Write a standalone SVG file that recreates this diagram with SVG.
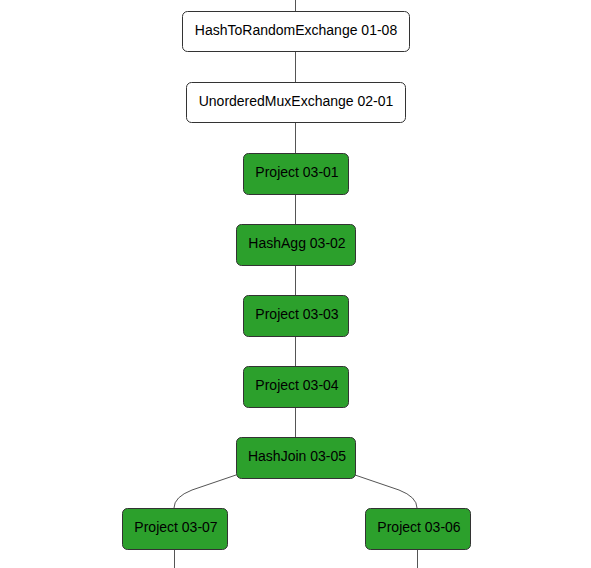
<svg xmlns="http://www.w3.org/2000/svg" width="591" height="568" viewBox="0 0 591 568">
<style>
.n rect{stroke:#333;stroke-width:1}
.w rect{fill:#fff}
.g rect{fill:#2ca02c}
text{font-family:"Liberation Sans",Arial,sans-serif;font-size:14px;text-anchor:middle;fill:#000}
.e{fill:none;stroke:#555;stroke-width:1}
</style>
<rect width="591" height="568" fill="#fff"/>
<g id="edges">
<path class="e" d="M295.5,0V11M295.5,51V82M295.5,122V153M295.5,194V224M295.5,265V295M295.5,336V366M295.5,407V437"/>
<path class="e" d="M236,475 L192,490 Q174,497 174,508"/>
<path class="e" d="M355,475 L399,490 Q417,497 417,508"/>
<path class="e" d="M174.5,549V568M417.5,549V568"/>
</g>
<g id="n1" class="n w"><rect x="182.5" y="11.5" width="227" height="40" rx="5"/><text x="296" y="35">HashToRandomExchange 01-08</text></g>
<g id="n2" class="n w"><rect x="186.5" y="82.5" width="219" height="40" rx="5"/><text x="296" y="106">UnorderedMuxExchange 02-01</text></g>
<g id="n3" class="n g"><rect x="243.5" y="153.5" width="105" height="41" rx="5"/><text x="297" y="177">Project 03-01</text></g>
<g id="n4" class="n g"><rect x="236.5" y="224.5" width="119" height="41" rx="5"/><text x="297" y="248">HashAgg 03-02</text></g>
<g id="n5" class="n g"><rect x="243.5" y="295.5" width="105" height="41" rx="5"/><text x="297" y="319">Project 03-03</text></g>
<g id="n6" class="n g"><rect x="243.5" y="366.5" width="105" height="41" rx="5"/><text x="297" y="390">Project 03-04</text></g>
<g id="n7" class="n g"><rect x="236.5" y="437.5" width="119" height="41" rx="5"/><text x="297" y="461">HashJoin 03-05</text></g>
<g id="n8" class="n g"><rect x="122.5" y="508.5" width="105" height="41" rx="5"/><text x="176" y="532">Project 03-07</text></g>
<g id="n9" class="n g"><rect x="365.5" y="508.5" width="105" height="41" rx="5"/><text x="419" y="532">Project 03-06</text></g>
</svg>
